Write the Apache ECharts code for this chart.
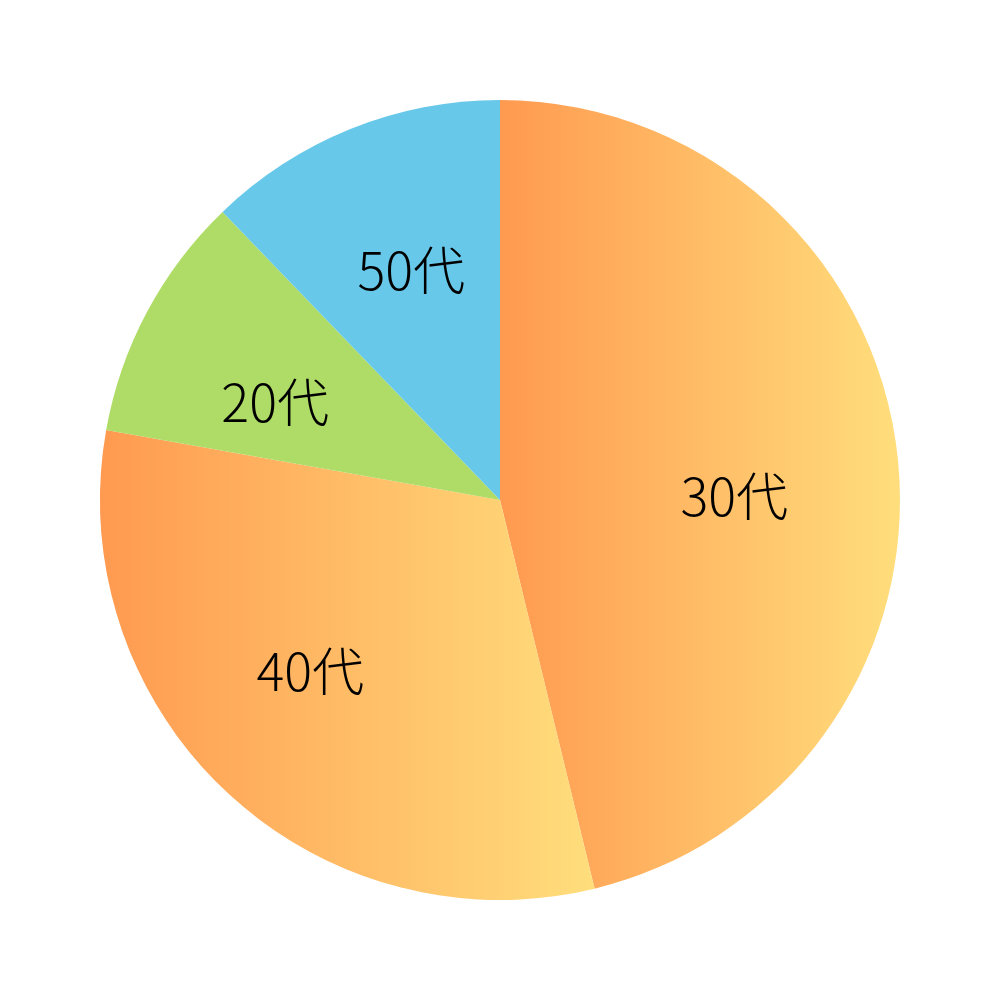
<!DOCTYPE html>
<html><head><meta charset="utf-8">
<script src="https://cdn.jsdelivr.net/npm/echarts@6/dist/echarts.min.js"></script>
<style>html,body{margin:0;padding:0;background:#fff}#c{width:1000px;height:1000px}</style>
</head><body><div id="c"></div>
<script>
const categories = ['30代', '40代', '20代', '50代'];
const values = [46.2, 31.6, 10.0, 12.2];
const gradient = () => new echarts.graphic.LinearGradient(0, 0, 1, 0, [
  {offset: 0, color: '#FF9A50'}, {offset: 1, color: '#FFDE7C'}
]);
const colors = [gradient(), gradient(), '#AEDC67', '#68C8E9'];
// small per-label nudges relative to the library's inside-label position
const labelNudge = [[-12, 26], [-20, -10], [-6, 19], [4, 0]];
const chart = echarts.init(document.getElementById('c'), null, {renderer: 'canvas'});
const data = categories.map((n, i) => ({name: n, value: values[i], itemStyle: {color: colors[i]}}));
chart.setOption({
  animation: false,
  series: [{
    type: 'pie', center: [500, 500], radius: [0, 400], startAngle: 90, clockwise: true,
    label: {show: false}, labelLine: {show: false}, silent: true,
    itemStyle: {borderWidth: 0},
    data: data
  }, {
    type: 'pie', center: [500, 500], radius: [90, 400], startAngle: 90, clockwise: true,
    silent: true, labelLine: {show: false},
    itemStyle: {color: 'rgba(0,0,0,0)', borderWidth: 0},
    label: {show: true, position: 'inside', formatter: '{b}', color: '#000',
      fontSize: 52, fontFamily: '"Noto Sans CJK JP", sans-serif', fontWeight: 300},
    data: categories.map((n, i) => ({name: n, value: values[i], label: {offset: labelNudge[i]}}))
  }]
});
</script></body></html>
